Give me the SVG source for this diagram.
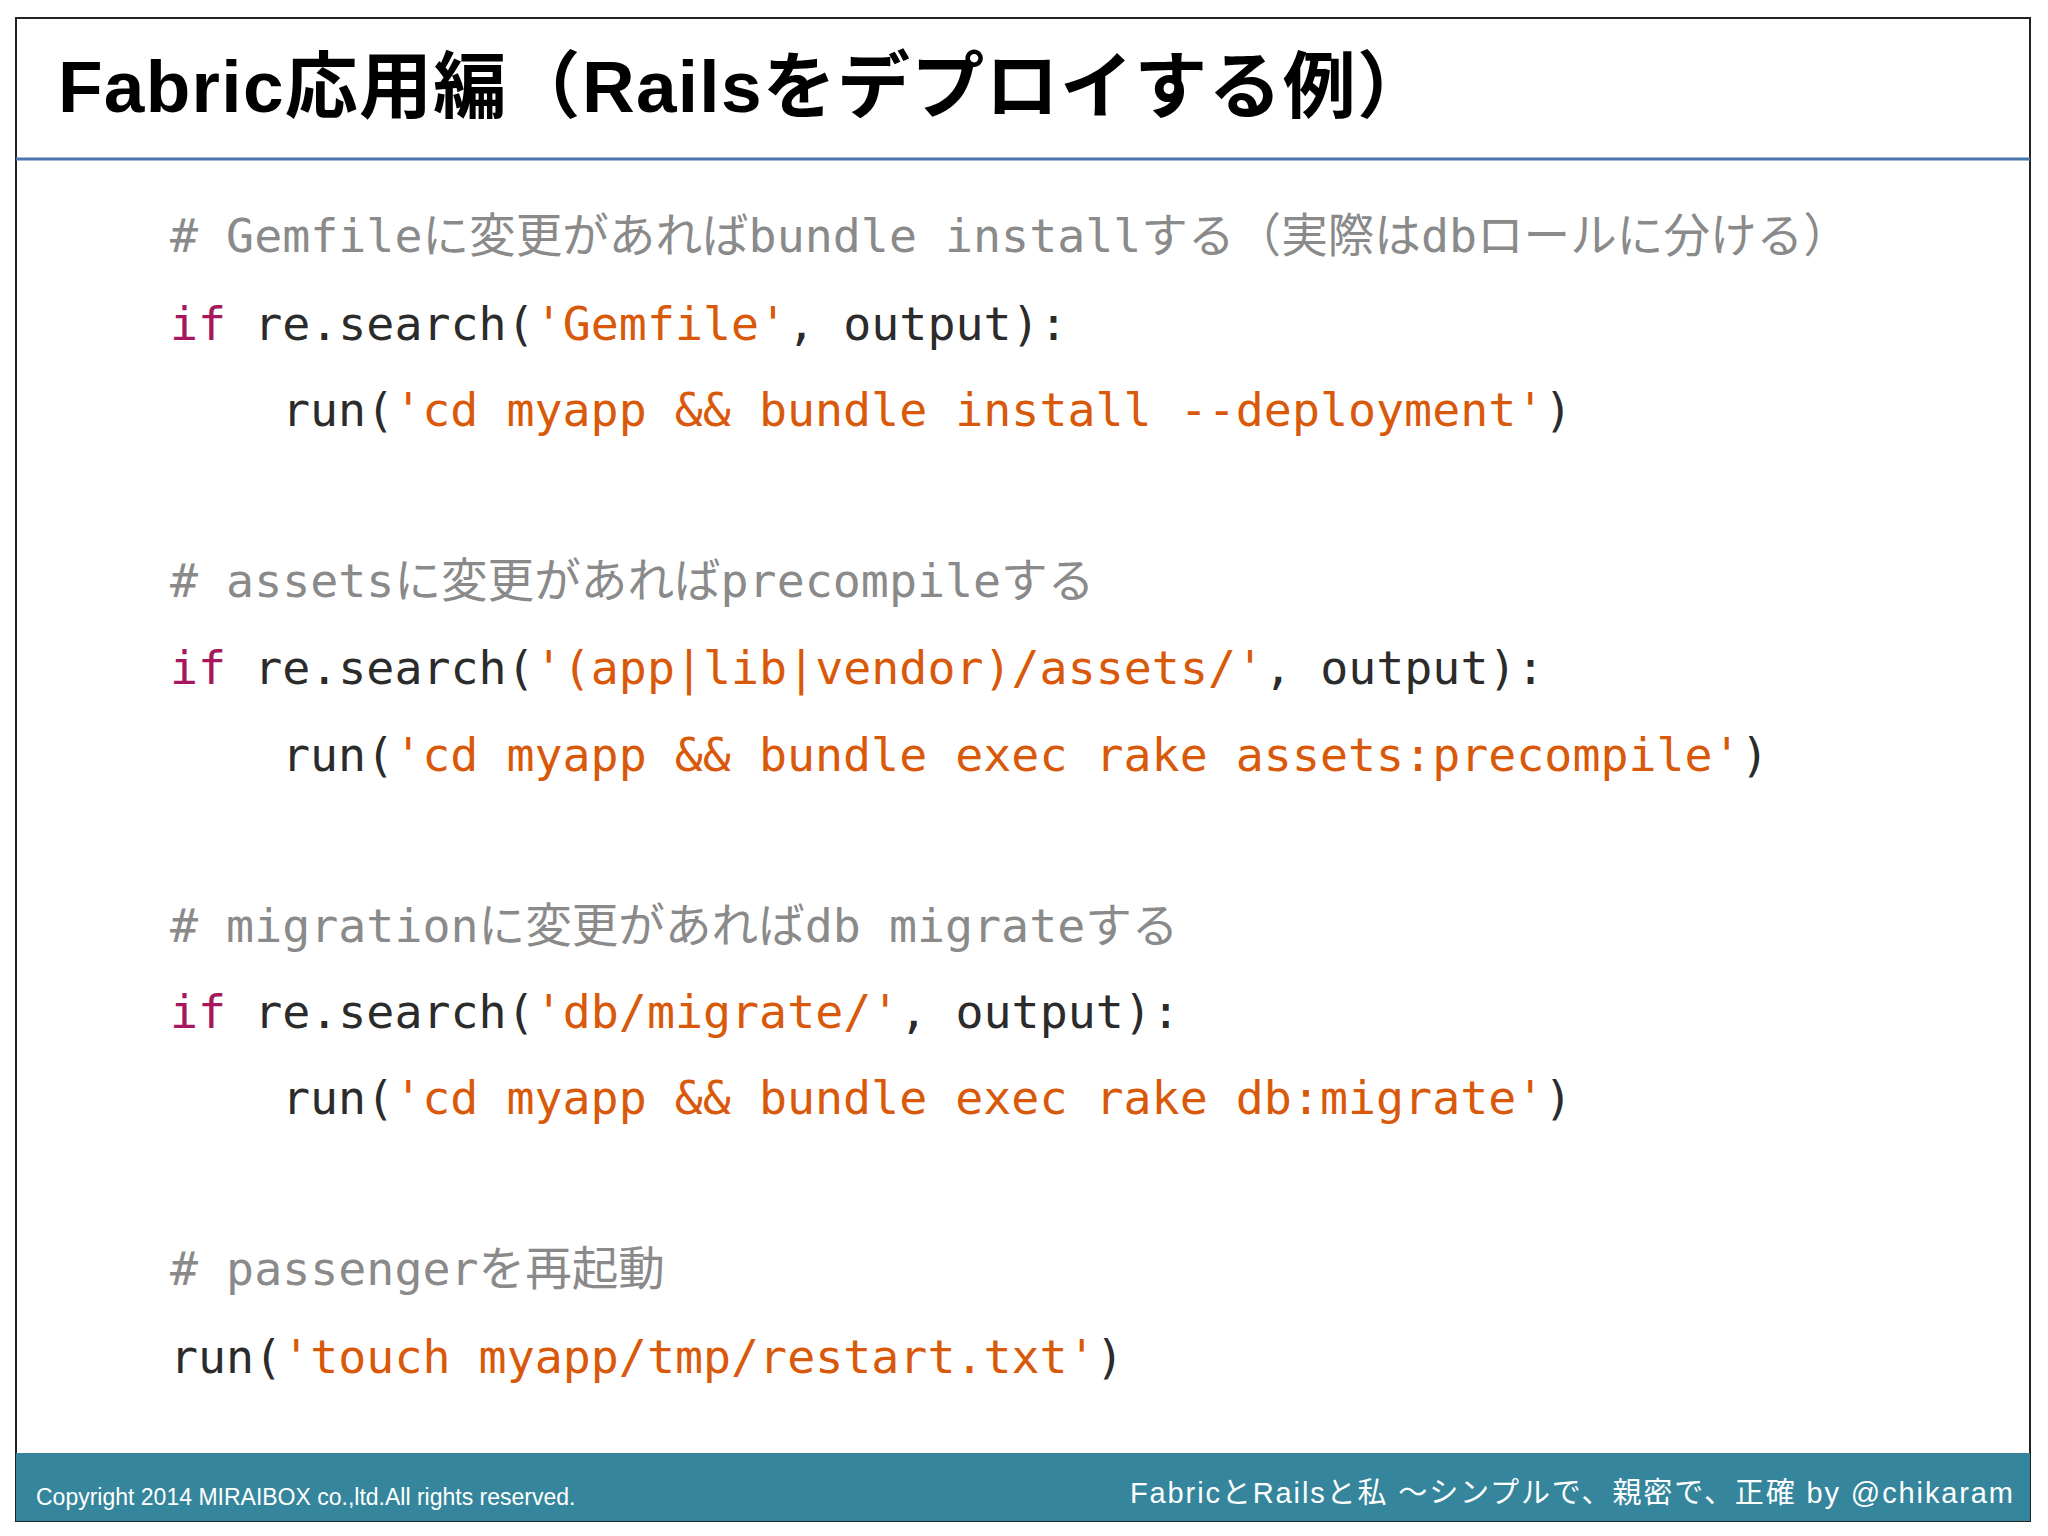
<svg xmlns="http://www.w3.org/2000/svg" width="2048" height="1536" viewBox="0 0 2048 1536">
<style>
.c{font-family:"DejaVu Sans Mono","Noto Sans CJK JP",monospace;font-size:46.6px;fill:#2b2b2b}
.cm{fill:#8a8a8a}
.k{fill:#a8175e}
.s{fill:#d9590a}
.t{font-family:"Liberation Sans","Noto Sans CJK JP",sans-serif;font-weight:bold;font-size:73px;fill:#000}
.f{font-family:"Liberation Sans","Noto Sans CJK JP",sans-serif;fill:#fff}
</style>
<rect x="0" y="0" width="2048" height="1536" fill="#fff"/>
<rect x="16" y="18" width="2014" height="1503" fill="#fff" stroke="#222" stroke-width="2"/>
<g id="title"><text class="t" x="58" y="112" textLength="1372" lengthAdjust="spacing">Fabric応用編（Railsをデプロイする例）</text></g>
<line x1="16" y1="159" x2="2030" y2="159" stroke="#4a76b0" stroke-width="3"/>
<g id="code">
<text class="c cm" x="170" y="252"># Gemfileに変更があればbundle installする（実際はdbロールに分ける）</text>
<text class="c" x="170" y="340"><tspan class="k">if</tspan> re.search(<tspan class="s">'Gemfile'</tspan>, output):</text>
<text class="c" x="282" y="426">run(<tspan class="s">'cd myapp &amp;&amp; bundle install --deployment'</tspan>)</text>
<text class="c cm" x="170" y="597"># assetsに変更があればprecompileする</text>
<text class="c" x="170" y="684"><tspan class="k">if</tspan> re.search(<tspan class="s">'(app|lib|vendor)/assets/'</tspan>, output):</text>
<text class="c" x="282" y="771">run(<tspan class="s">'cd myapp &amp;&amp; bundle exec rake assets:precompile'</tspan>)</text>
<text class="c cm" x="170" y="942"># migrationに変更があればdb migrateする</text>
<text class="c" x="170" y="1028"><tspan class="k">if</tspan> re.search(<tspan class="s">'db/migrate/'</tspan>, output):</text>
<text class="c" x="282" y="1114">run(<tspan class="s">'cd myapp &amp;&amp; bundle exec rake db:migrate'</tspan>)</text>
<text class="c cm" x="170" y="1285"># passengerを再起動</text>
<text class="c" x="170" y="1373">run(<tspan class="s">'touch myapp/tmp/restart.txt'</tspan>)</text>
</g>
<g id="footer">
<rect x="16" y="1453" width="2014" height="68" fill="#35869c"/>
<text class="f" x="36" y="1505" font-size="23">Copyright 2014 MIRAIBOX co.,ltd.All rights reserved.</text>
<text class="f" x="1130" y="1503" font-size="29" textLength="883" lengthAdjust="spacing">FabricとRailsと私 ～シンプルで、親密で、正確  by @chikaram</text>
</g>
</svg>
